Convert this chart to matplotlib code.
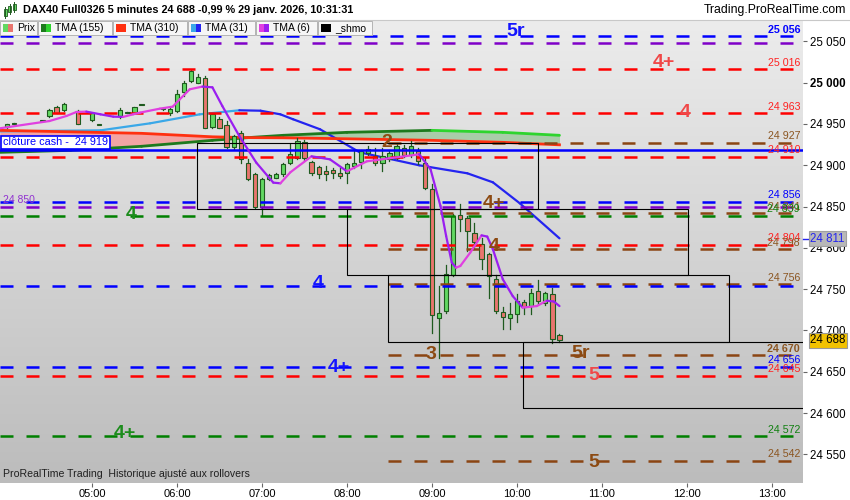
import matplotlib
matplotlib.use('Agg')
import matplotlib.pyplot as plt
import matplotlib.transforms as mtransforms
from matplotlib.colors import LinearSegmentedColormap
from matplotlib.patches import Rectangle
from matplotlib.lines import Line2D
from matplotlib import font_manager
import numpy as np

plt.rcParams['font.family'] = ['Liberation Sans', 'DejaVu Sans']
_names = {f.name for f in font_manager.fontManager.ttflist}
HAS_NARROW = 'Liberation Sans Narrow' in _names
NARROW = 'Liberation Sans Narrow' if HAS_NARROW else 'Liberation Sans'

# ---- bougies 5 minutes ----
bar_time = ["04:00", "04:05", "04:25", "04:30", "04:35", "04:40", "04:50", "05:00", "05:05", "05:20",
            "05:25", "05:30", "05:35", "05:50", "05:55", "06:00", "06:05", "06:10", "06:15", "06:20",
            "06:25", "06:30", "06:35", "06:40", "06:45", "06:50", "06:55", "07:00", "07:05", "07:10",
            "07:15", "07:20", "07:25", "07:30", "07:35", "07:40", "07:45", "07:50", "07:55", "08:00",
            "08:05", "08:10", "08:15", "08:20", "08:25", "08:30", "08:35", "08:40", "08:45", "08:50",
            "08:55", "09:00", "09:05", "09:10", "09:15", "09:20", "09:25", "09:30", "09:35", "09:40",
            "09:45", "09:50", "09:55", "10:00", "10:05", "10:10", "10:15", "10:20", "10:25", "10:30"]
bar_open = [24946.2, 24950.2, 24953.3, 24959.6, 24971.0, 24966.8, 24965.6, 24954.7, 24948.5, 24959.6,
            24963.5, 24963.7, 24972.7, 24967.5, 24963.7, 24965.6, 24988.6, 25001.9, 25000.0, 25006.0,
            24946.2, 24955.6, 24948.3, 24922.0, 24939.5, 24903.1, 24889.0, 24849.0, 24882.9, 24885.0,
            24889.0, 24903.1, 24909.2, 24928.1, 24903.9, 24897.8, 24893.0, 24894.2, 24890.2, 24891.0,
            24899.0, 24903.9, 24915.3, 24911.1, 24903.0, 24908.0, 24909.2, 24921.3, 24912.0, 24917.2,
            24903.1, 24871.7, 24715.5, 24723.5, 24767.0, 24839.3, 24836.6, 24818.4, 24804.2, 24792.1,
            24761.9, 24722.7, 24715.5, 24719.5, 24734.4, 24729.5, 24747.7, 24733.6, 24743.7, 24694.0]
bar_high = [24950.0, 24951.0, 24954.0, 24967.5, 24971.5, 24975.0, 24967.0, 24963.5, 24949.2, 24969.7,
            24964.2, 24971.0, 24973.4, 24968.2, 24970.0, 24990.7, 25002.0, 25015.5, 25010.0, 25008.0,
            24962.0, 24958.8, 24953.0, 24936.0, 24941.4, 24907.0, 24891.0, 24884.0, 24889.0, 24890.0,
            24903.0, 24925.3, 24933.4, 24931.0, 24905.0, 24899.0, 24899.0, 24897.0, 24897.0, 24903.0,
            24917.2, 24919.0, 24923.0, 24921.0, 24921.0, 24919.0, 24927.0, 24925.0, 24929.0, 24921.3,
            24909.2, 24876.9, 24753.8, 24779.0, 24841.0, 24852.7, 24838.0, 24830.5, 24812.3, 24794.2,
            24766.7, 24728.8, 24732.8, 24743.7, 24737.2, 24749.8, 24760.7, 24747.0, 24751.8, 24696.0]
bar_low = [24945.5, 24949.8, 24953.0, 24958.8, 24963.0, 24966.0, 24950.0, 24954.0, 24948.2, 24956.8,
           24963.2, 24963.0, 24972.4, 24967.2, 24961.0, 24965.0, 24983.8, 25001.0, 24999.5, 24945.0,
           24945.5, 24945.0, 24921.0, 24920.0, 24903.1, 24882.0, 24848.0, 24839.7, 24882.0, 24884.0,
           24887.0, 24902.0, 24908.0, 24906.0, 24887.8, 24885.0, 24882.0, 24885.0, 24884.0, 24879.0,
           24897.0, 24897.0, 24912.0, 24900.0, 24893.0, 24905.0, 24907.0, 24910.0, 24910.0, 24901.0,
           24870.7, 24697.3, 24667.0, 24721.5, 24766.0, 24820.3, 24796.0, 24798.2, 24774.0, 24739.7,
           24721.5, 24702.2, 24702.2, 24710.2, 24719.5, 24719.5, 24731.6, 24731.0, 24685.2, 24686.0]
bar_close = [24949.5, 24950.6, 24953.7, 24966.8, 24963.7, 24974.6, 24950.4, 24962.8, 24948.9, 24966.8,
             24963.9, 24970.5, 24973.1, 24967.9, 24968.0, 24985.8, 24999.2, 25014.0, 25007.3, 24945.5,
             24961.6, 24945.5, 24922.0, 24935.4, 24907.0, 24883.0, 24849.9, 24882.9, 24887.8, 24889.0,
             24901.1, 24913.2, 24929.3, 24909.2, 24891.0, 24889.0, 24889.8, 24891.0, 24887.0, 24901.1,
             24903.1, 24917.2, 24919.2, 24903.1, 24911.0, 24915.0, 24923.3, 24912.0, 24923.3, 24905.0,
             24872.9, 24718.3, 24720.8, 24768.0, 24838.5, 24835.3, 24820.3, 24807.0, 24786.0, 24766.0,
             24723.5, 24716.7, 24719.5, 24735.6, 24728.8, 24745.8, 24735.6, 24744.9, 24689.3, 24688.0]

# ---- moyennes mobiles ----
tma6_time = ["03:55", "04:30", "04:42", "04:49", "04:56", "05:06", "05:15", "05:22", "05:29", "05:34",
             "05:48", "05:57", "06:02", "06:09", "06:18", "06:25", "06:32", "06:44", "06:56", "07:08",
             "07:13", "07:20", "07:35", "07:48", "08:00", "08:14", "08:30", "08:51", "08:59", "09:06",
             "09:10", "09:14", "09:17", "09:20", "09:27", "09:35", "09:39", "09:43", "09:50", "09:57",
             "10:04", "10:14", "10:21", "10:26", "10:30"]
tma6_val = [24944.7, 24953.5, 24959.6, 24964.4, 24964.9, 24961.6, 24958.8, 24958.5, 24961.6, 24963.7,
            24968.5, 24970.9, 24979.8, 24991.9, 24995.2, 24994.3, 24971.7, 24935.3, 24903.1, 24878.9,
            24878.1, 24891.4, 24910.8, 24907.1, 24892.6, 24904.7, 24908.4, 24913.2, 24895.0, 24850.6,
            24814.3, 24782.1, 24776.0, 24778.0, 24794.2, 24815.1, 24813.6, 24798.2, 24761.9, 24741.6,
            24727.6, 24729.5, 24736.0, 24735.0, 24729.5]
tma31_time = ["03:55", "05:06", "05:41", "06:16", "06:44", "06:59", "07:13", "07:22", "07:41", "08:09",
              "08:51", "09:25", "09:43", "10:02", "10:30"]
tma31_val = [24941.0, 24942.2, 24950.7, 24961.6, 24966.5, 24966.0, 24961.6, 24955.6, 24943.5, 24915.6,
             24899.9, 24890.2, 24879.3, 24853.9, 24811.5]
band_time = ["03:55", "04:45", "05:35", "06:25", "06:50", "07:15", "08:00", "09:00", "09:50", "10:30"]
tma155_val = [24915.6, 24918.0, 24922.9, 24930.1, 24933.4, 24936.2, 24939.8, 24942.2, 24939.8, 24936.2]
tma310_val = [24942.2, 24940.4, 24938.6, 24934.4, 24933.4, 24933.2, 24932.0, 24930.1, 24927.7, 24924.7]

# ---- niveaux horizontaux ----
level_price = [25056, 25047.5, 25016, 24963, 24927, 24910, 24856, 24850, 24842, 24839,
               24804, 24798, 24756, 24754, 24670, 24656, 24645, 24572, 24542]
level_color = ['blue', 'purple', 'red', 'red', 'brown', 'red', 'blue', 'purple', 'brown', 'green',
               'red', 'brown', 'brown', 'blue', 'brown', 'blue', 'red', 'green', 'brown']
level_label = ['25 056', '', '25 016', '24 963', '24 927', '24 910', '24 856', '', '24 841', '24 839',
               '24 804', '24 798', '24 756', '', '24 670', '24 656', '24 645', '24 572', '24 542']
cash_close = 24919

wave_text = ['5r', '4+', '4', '2', '4', '4+', '4', '4', '3', '5r', '4+', '5', '4+', '5']
wave_color = ['blue', 'red', 'red', 'brown', 'green', 'brown', 'brown', 'blue', 'brown', 'brown',
              'blue', 'red', 'green', 'brown']
wave_time = ["09:59", "11:44", "11:59", "08:28", "05:28", "09:44", "09:44", "07:40", "08:59", "10:45",
             "07:54", "10:54", "05:23", "10:54"]
wave_price = [25062, 25024.5, 24964, 24927.5, 24840.5, 24854, 24802, 24757, 24671, 24672,
              24655.5, 24646, 24575, 24540.5]

# ---- boites _shmo ----
box_start = ["06:14", "08:00", "08:29", "10:04"]
box_end = ["10:15", "12:01", "12:30", "14:05"]
box_top = [24926.5, 24846.5, 24766.5, 24686.5]
box_bottom = [24846.5, 24766.5, 24686.5, 24605.5]

last_price = 24688
tma31_last = 24811


def hrs(s):
    h, m = s.split(':')
    return int(h) + int(m) / 60.0


LINE = {'blue': '#0000ff', 'purple': '#7f00c8', 'red': '#ff0000', 'brown': '#8b4513', 'green': '#008000'}
TXT = {'blue': '#0000ff', 'purple': '#9030d0', 'red': '#ff2020', 'brown': '#8b5520', 'green': '#108010'}
WAVE = {'blue': '#1414ff', 'purple': '#9030d0', 'red': '#f04848', 'brown': '#8c4a12', 'green': '#1c8c1c'}

fig = plt.figure(figsize=(8.5, 5), dpi=100)
ax = fig.add_axes([0, 17 / 500, 803 / 850, 463 / 500])
x0, x1 = 3.918, 13.365
y0, y1 = 24515.3, 25075.8

bg = LinearSegmentedColormap.from_list('bg', ['#ececec', '#bcbcbc'])
ax.imshow(np.linspace(0, 1, 200).reshape(-1, 1), extent=[x0, x1, y0, y1], aspect='auto',
          cmap=bg, origin='upper', zorder=0)

# bande TMA155 / TMA310
bt = [hrs(s) for s in band_time]
a155 = np.array(tma155_val)
a310 = np.array(tma310_val)
ax.fill_between(bt, a310, a155, where=a310 >= a155, interpolate=True, color='#f2a4a4', lw=0, zorder=1)
ax.fill_between(bt, a310, a155, where=a310 <= a155, interpolate=True, color='#a9cca9', lw=0, zorder=1)


def colored(t, v, up, down, lw, z):
    for i in range(len(t) - 1):
        c = up if v[i + 1] >= v[i] else down
        ax.plot(t[i:i + 2], v[i:i + 2], color=c, lw=lw, solid_capstyle='round', zorder=z)


# TMA31 sous la TMA310 (confondues en debut de seance)
colored([hrs(s) for s in tma31_time], tma31_val, '#3aa8e8', '#2424f0', 1.6, 2.5)
ax.plot(bt, tma310_val, color='#ff3010', lw=2, zorder=2.7)
colored(bt, tma155_val, '#1d7a1d', '#2ed42e', 2, 2.6)

# bougies
edge = '#1f5a1f'
w = 0.05
for t, o, h, l, c in zip(bar_time, bar_open, bar_high, bar_low, bar_close):
    x = hrs(t)
    ax.plot([x, x], [l, h], color=edge, lw=0.9, zorder=3)
    lo, hi = min(o, c), max(o, c)
    if hi - lo < 1.5:
        hi = lo + 1.5
    ax.add_patch(Rectangle((x - w / 2, lo), w, hi - lo, fc='#62d862' if c >= o else '#e8756e',
                           ec=edge, lw=0.8, zorder=4))

# niveaux
off = mtransforms.offset_copy(ax.transData, fig=fig, x=0, y=3.6, units='dots')
for p, k, lab in zip(level_price, level_color, level_label):
    start = hrs("08:29") if k == 'brown' else x0
    ax.plot([start, x1], [p, p], color=LINE[k], lw=1.8, dashes=(5.2, 5.2), zorder=5)
    if lab:
        bold = lab in ('25 056', '24 670')
        ax.text(13.33, p, lab, color=TXT[k], fontsize=7.7, ha='right', va='baseline',
                fontweight='bold' if bold else 'normal', transform=off, zorder=9)
ax.text(3.95, 24850, '24 850', color=TXT['purple'], fontsize=7.5, ha='left', va='baseline',
        transform=off, zorder=9)
ax.axhline(cash_close, color='#0000ff', lw=1.8, zorder=5)
ax.text(3.953, 24927.7, 'clôture cash -  24 919', color='#0000ff', fontsize=7.8, ha='left',
        va='center', zorder=10,
        bbox=dict(boxstyle='square,pad=0.15', fc='white', ec='#0000ff', lw=1.2))

# boites
for s, e, tp, bt_ in zip(box_start, box_end, box_top, box_bottom):
    ax.add_patch(Rectangle((hrs(s), bt_), hrs(e) - hrs(s), tp - bt_, fill=False,
                           ec='black', lw=0.8, zorder=6))

# TMA rapide
colored([hrs(s) for s in tma6_time], tma6_val, '#e040e0', '#9a1ef0', 1.6, 7)

for txt, k, t, p in zip(wave_text, wave_color, wave_time, wave_price):
    ax.text(hrs(t), p, txt, color=WAVE[k], fontsize=14, fontweight='bold', ha='center',
            va='center', zorder=8)

ax.text(3 / 803, 9 / 463, 'ProRealTime Trading  Historique ajusté aux rollovers', transform=ax.transAxes,
        fontsize=8 if HAS_NARROW else 7.6, family=NARROW, color='#202020', va='center', zorder=9)

ax.set_xlim(x0, x1)
ax.set_ylim(y0, y1)
for sp in ax.spines.values():
    sp.set_visible(False)
ax.yaxis.tick_right()
yt = [24550 + 50 * i for i in range(11)]
ax.set_yticks(yt)
ax.set_yticklabels([f"{v:,}".replace(',', ' ') for v in yt])
for lbl in ax.get_yticklabels():
    if lbl.get_text() == '25 000':
        lbl.set_fontweight('bold')
ax.tick_params(axis='y', length=3, pad=2, labelsize=8.3, color='#666666')
xt = list(range(5, 14))
ax.set_xticks(xt)
ax.set_xticklabels([f"{h:02d}:00" for h in xt], family=NARROW, fontsize=9 if HAS_NARROW else 8)
ax.tick_params(axis='x', length=3, pad=1.5, color='#666666')

# étiquettes de prix sur l'axe
blend = mtransforms.blended_transform_factory(ax.transAxes, ax.transData)
ax.add_line(Line2D([1.0, 1.007], [tma31_last, tma31_last], color='#2424f0', lw=1,
                   transform=blend, clip_on=False))
ax.text(1.009, tma31_last, '24 811', transform=blend, color='#2424f0', fontsize=8.3, va='center',
        ha='left', clip_on=False, bbox=dict(boxstyle='square,pad=0.12', fc='#b8b8b8', ec='#a0a0a0', lw=0.8))
ax.text(1.009, last_price, '24 688', transform=blend, color='black', fontsize=8.3, va='center',
        ha='left', clip_on=False, bbox=dict(boxstyle='square,pad=0.12', fc='#f2c200', ec='#999999', lw=0.8))


# en-tete
def fx(x):
    return x / 850.0


def fy(y):
    return 1 - y / 500.0


fig.add_artist(Line2D([0, 1], [fy(20), fy(20)], color='#c8c8c8', lw=0.8))
for (cx, y_a, y_b, col) in [(5, 9, 16, '#62d862'), (9.5, 6, 12, '#62d862'), (14, 4, 10, '#62d862')]:
    fig.add_artist(Line2D([fx(cx), fx(cx)], [fy(y_a - 2), fy(y_b + 2)], color=edge, lw=0.7))
    fig.add_artist(Rectangle((fx(cx - 1.5), fy(y_b)), fx(3), fy(y_a) - fy(y_b), fc=col, ec=edge, lw=0.6))
fig.text(fx(23), fy(10), 'DAX40 Full0326 5 minutes 24 688 -0,99 % 29 janv. 2026, 10:31:31',
         fontsize=7.8, fontweight='bold', va='center')
fig.text(fx(846), fy(10), 'Trading.ProRealTime.com', fontsize=8.8, ha='right', va='center')

legend_items = [('Prix', ['#62d862', '#e8756e'], 0, 37), ('TMA (155)', ['#1d7a1d', '#2ed42e'], 38, 112),
                ('TMA (310)', ['#ff3010'], 113, 187), ('TMA (31)', ['#3aa8e8', '#2424f0'], 188, 255),
                ('TMA (6)', ['#e040e0', '#9a1ef0'], 256, 317), ('_shmo', ['black'], 318, 372)]
for name, cols, xa, xb in legend_items:
    fig.add_artist(Rectangle((fx(xa), fy(35)), fx(xb - xa), fy(21) - fy(35), fc='#f6f6f6',
                             ec='#b4b4b4', lw=0.7))
    sw = 10.0 / len(cols)
    for i, c in enumerate(cols):
        fig.add_artist(Rectangle((fx(xa + 3 + i * sw), fy(32)), fx(sw), fy(24) - fy(32), fc=c, lw=0))
    fig.text(fx(xa + 17), fy(28.3), name, fontsize=7.5, va='center')

fig.savefig('out.png', dpi=100)
